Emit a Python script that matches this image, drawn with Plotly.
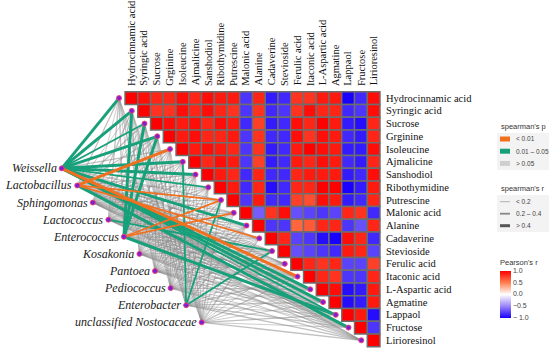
import plotly.graph_objects as go

# ---------------- data ----------------
metabolites = ["Hydrocinnamic acid", "Syringic acid", "Sucrose", "Grginine", "Isoleucine",
               "Ajmalicine", "Sanshodiol", "Ribothymidine", "Putrescine", "Malonic acid",
               "Alanine", "Cadaverine", "Stevioside", "Ferulic acid", "Itaconic acid",
               "L-Aspartic acid", "Agmatine", "Lappaol", "Fructose", "Lirioresinol"]

bacteria = ["Weissella", "Lactobacillus", "Sphingomonas", "Lactococcus", "Enterococcus",
            "Kosakonia", "Pantoea", "Pediococcus", "Enterobacter", "unclassified Nostocaceae"]

# Pearson's r, upper triangle (row i holds columns i..19)
pearson_upper = [
    [1.0, 0.95, 0.85, 0.85, 0.95, 0.85, 0.95, 0.9, 0.9, -0.8, 0.85, -0.9, -0.85, 0.8, 0.8, 0.9, 0.9, -1.0, -0.85, 0.95],
    [1.0, 0.8, 0.8, 0.95, 0.85, 0.95, 0.85, 0.8, -0.8, 0.8, -0.85, -0.8, 0.8, 0.95, 0.85, 0.85, -0.85, -0.8, 0.95],
    [1.0, 0.95, 0.9, 0.95, 0.85, 0.95, 0.9, -0.85, 0.75, -0.9, -0.85, 0.95, 0.85, 1.0, 0.9, -0.9, -0.95, 0.85],
    [1.0, 0.9, 0.95, 0.85, 0.85, 0.9, -0.8, 0.8, -0.85, -0.85, 0.95, 0.8, 0.95, 0.9, -0.85, -0.9, 0.85],
    [1.0, 0.9, 0.95, 0.9, 0.85, -0.8, 0.8, -0.9, -0.85, 0.9, 1.0, 0.95, 0.9, -0.9, -0.9, 0.95],
    [1.0, 0.85, 0.95, 0.9, -0.8, 0.75, -0.9, -0.85, 0.9, 0.85, 0.95, 0.9, -0.85, -0.9, 0.85],
    [1.0, 0.9, 0.85, -0.85, 0.85, -0.85, -0.85, 0.85, 0.9, 0.9, 0.9, -0.9, -0.85, 0.95],
    [1.0, 0.9, -0.85, 0.85, -0.95, -0.85, 0.85, 0.85, 1.0, 1.0, -1.0, -0.9, 0.9],
    [1.0, -0.8, 0.9, -0.85, -0.85, 0.75, 0.7, 0.95, 0.9, -0.9, -0.85, 0.85],
    [1.0, -0.65, 0.8, 0.95, -0.7, -0.75, -0.8, -0.75, 0.85, 0.8, -0.85],
    [1.0, -0.8, -0.8, 0.6, 0.65, 0.85, 0.85, -0.8, -0.7, 0.85],
    [1.0, 0.85, -0.75, -0.8, -0.95, -1.0, 0.95, 0.85, -0.85],
    [1.0, -0.7, -0.75, -0.8, -0.85, 0.9, 0.85, -0.75],
    [1.0, 0.85, 0.8, 0.85, -0.75, -0.75, 0.75],
    [1.0, 0.85, 0.8, -0.8, -0.8, 0.85],
    [1.0, 0.95, -0.95, -0.9, 0.9],
    [1.0, -0.95, -0.9, 0.9],
    [1.0, 0.9, -0.95],
    [1.0, -0.8],
    [1.0],
]

# Mantel-type links bacteria -> metabolites
# spearman's p class: 0 = > 0.05, 1 = 0.01-0.05, 2 = < 0.01
spearman_p_class = [
    [1, 1, 1, 1, 0, 1, 1, 1, 0, 0, 1, 0, 0, 0, 2, 1, 1, 1, 0, 0],
    [0, 0, 0, 0, 2, 0, 0, 0, 2, 0, 0, 2, 0, 0, 0, 0, 0, 0, 1, 0],
    [0, 0, 0, 0, 0, 0, 0, 0, 0, 0, 0, 0, 0, 0, 0, 0, 0, 0, 0, 0],
    [0, 0, 0, 0, 0, 0, 0, 0, 0, 0, 0, 0, 1, 0, 0, 0, 0, 0, 0, 0],
    [0, 1, 1, 1, 0, 0, 0, 0, 2, 2, 0, 0, 0, 0, 0, 0, 0, 1, 0, 0],
    [0, 0, 0, 0, 0, 0, 0, 0, 0, 0, 0, 0, 0, 0, 0, 0, 0, 0, 0, 0],
    [0, 0, 0, 0, 0, 0, 0, 0, 0, 0, 0, 0, 0, 0, 0, 0, 0, 0, 0, 0],
    [0, 0, 0, 0, 0, 0, 0, 0, 0, 0, 0, 0, 0, 0, 0, 0, 0, 0, 0, 0],
    [0, 0, 0, 0, 0, 1, 0, 0, 1, 0, 0, 0, 1, 0, 0, 0, 0, 0, 0, 0],
    [0, 0, 0, 0, 0, 0, 0, 0, 0, 0, 0, 0, 0, 0, 0, 0, 0, 0, 0, 0],
]
# spearman's r class: 0 = < 0.2, 1 = 0.2-0.4, 2 = > 0.4
spearman_r_class = [
    [2, 2, 1, 2, 1, 2, 2, 1, 1, 0, 2, 1, 0, 1, 2, 2, 2, 1, 1, 0],
    [1, 0, 1, 1, 2, 0, 1, 0, 1, 1, 0, 1, 0, 1, 0, 1, 1, 0, 2, 1],
    [0, 1, 0, 1, 0, 1, 0, 0, 1, 0, 1, 0, 1, 0, 0, 1, 0, 1, 0, 0],
    [1, 0, 1, 0, 1, 0, 1, 1, 0, 1, 0, 1, 1, 0, 1, 0, 1, 0, 1, 0],
    [1, 2, 2, 2, 0, 1, 0, 1, 1, 1, 0, 1, 1, 0, 1, 1, 0, 2, 1, 0],
    [0, 1, 0, 0, 1, 0, 1, 0, 0, 1, 0, 0, 1, 0, 1, 0, 0, 1, 0, 1],
    [1, 0, 0, 1, 0, 0, 1, 0, 1, 0, 1, 0, 0, 1, 0, 0, 1, 0, 1, 0],
    [0, 0, 1, 0, 1, 0, 0, 1, 0, 0, 1, 0, 1, 0, 0, 1, 0, 0, 0, 1],
    [0, 1, 0, 1, 0, 1, 0, 1, 1, 0, 1, 0, 1, 0, 1, 0, 1, 0, 1, 1],
    [0, 0, 1, 0, 0, 1, 0, 0, 1, 0, 0, 1, 0, 0, 1, 0, 0, 1, 0, 1],
]

p_legend_labels = ["< 0.01", "0.01 \u2013 0.05", "> 0.05"]
r_legend_labels = ["< 0.2", "0.2 \u2013 0.4", "> 0.4"]
cbar_ticks = [1.0, 0.5, 0.0, -0.5, -1.0]
cbar_ticktext = ["1.0", "0.5", "0.0", "\u22120.5", "\u2212 1.0"]

# ---------------- styles ----------------
W, H = 550, 353
CELL = 12.75                      # px per matrix unit
X0_PX, Y0_PX = 125.0, 91.7        # pixel position of matrix top-left corner
x_lo = -0.5 - X0_PX / CELL
x_hi = x_lo + W / CELL
y_top = -0.5 - Y0_PX / CELL
y_bot = y_top + H / CELL

p_colors = {0: "rgba(140,140,140,0.55)", 1: "#17a07a", 2: "#f07020"}
width_gray = {0: 0.8, 1: 1.3, 2: 2.0}
width_col = {0: 1.0, 1: 1.8, 2: 3.0}

colorscale = [[0.0, "#1a00ff"], [0.25, "#9b85f8"], [0.5, "#ffffff"],
              [0.75, "#ff8050"], [1.0, "#ff0000"]]

SERIF = "Liberation Serif, Times New Roman, serif"
SANS = "Liberation Sans, Arial, sans-serif"

n = len(metabolites)
fig = go.Figure()

# node layout
met_x = [i - 0.97 for i in range(n)]
met_y = [float(i) for i in range(n)]
bac_x = [-5.465 + 1.22 * k for k in range(len(bacteria))]
bac_y = [5.51 + 1.342 * k for k in range(len(bacteria))]

# ---------------- edges ----------------
for p in (0, 1, 2):
    for r in (0, 1, 2):
        xs, ys = [], []
        for b in range(len(bacteria)):
            for m in range(n):
                if spearman_p_class[b][m] == p and spearman_r_class[b][m] == r:
                    xs += [bac_x[b], met_x[m], None]
                    ys += [bac_y[b], met_y[m], None]
        if xs:
            fig.add_trace(go.Scatter(
                x=xs, y=ys, mode="lines", hoverinfo="skip",
                line=dict(color=p_colors[p], width=(width_gray if p == 0 else width_col)[r]),
            ))

# ---------------- heatmap cells ----------------
cx, cy, cv = [], [], []
for i, row in enumerate(pearson_upper):
    for k, v in enumerate(row):
        cx.append(i + k)
        cy.append(i)
        cv.append(v)

fig.add_trace(go.Scatter(
    x=cx, y=cy, mode="markers", hoverinfo="skip",
    marker=dict(symbol="square", size=CELL, color=cv, colorscale=colorscale,
                cmin=-1, cmax=1, line=dict(color="#6e6e6e", width=1.4),
                showscale=True,
                colorbar=dict(
                    x=500 / W, xanchor="left", y=1 - 256.5 / H, yanchor="top",
                    len=61 / H, lenmode="fraction", thickness=11, outlinewidth=0,
                    tickvals=cbar_ticks, ticktext=cbar_ticktext, ticks="",
                    tickfont=dict(size=7, family=SANS, color="#444"),
                    title=dict(text="Pearson's r", side="top",
                               font=dict(size=7.5, family=SANS, color="#333")),
                    xpad=0, ypad=0)),
))

# ---------------- nodes ----------------
fig.add_trace(go.Scatter(
    x=met_x + bac_x, y=met_y + bac_y, mode="markers", hoverinfo="skip",
    marker=dict(size=5, color="#7a1fd6", line=dict(color="#f0407a", width=1)),
))

# ---------------- labels ----------------
ann = []
for i, name in enumerate(metabolites):
    ann.append(dict(x=n - 0.5, y=i, text=name, xanchor="left", yanchor="middle",
                    xshift=4, showarrow=False,
                    font=dict(size=10.5, family=SERIF, color="#111")))
    ann.append(dict(x=i, y=-0.5, text=name, textangle=-90, xanchor="center",
                    yanchor="bottom", yshift=4, showarrow=False,
                    font=dict(size=10.5, family=SERIF, color="#111")))
for k, name in enumerate(bacteria):
    ann.append(dict(x=bac_x[k], y=bac_y[k], text="<i>" + name + "</i>", xanchor="right",
                    yanchor="middle", xshift=-3, showarrow=False,
                    font=dict(size=12, family=SERIF, color="#1a1a1a")))

# ---------------- legends (paper coords from px) ----------------
def px(xp):
    return xp / W


def py(yp):
    return 1 - yp / H


shapes = []
lx = 500
# spearman's p
ann.append(dict(x=px(lx - 1), y=py(126.5), xref="paper", yref="paper", text="spearman's p",
                xanchor="left", yanchor="middle", showarrow=False,
                font=dict(size=7.5, family=SANS, color="#333")))
shapes.append(dict(type="rect", xref="paper", yref="paper", x0=px(497), x1=px(549),
                   y0=py(133), y1=py(170), fillcolor="#f3f3f3", line=dict(width=0), layer="below"))
for j, (lab, pc) in enumerate(zip(p_legend_labels, (2, 1, 0))):
    yc = 139 + j * 12.2
    col = p_colors[pc] if pc != 0 else "#cfcfcf"
    shapes.append(dict(type="rect", xref="paper", yref="paper", x0=px(lx), x1=px(lx + 10),
                       y0=py(yc - 2.5), y1=py(yc + 2.5), fillcolor=col, line=dict(width=0)))
    ann.append(dict(x=px(lx + 14), y=py(yc), xref="paper", yref="paper", text=lab,
                    xanchor="left", yanchor="middle", showarrow=False,
                    font=dict(size=6.5, family=SANS, color="#444")))
# spearman's r
ann.append(dict(x=px(lx - 1), y=py(188.3), xref="paper", yref="paper", text="spearman's r",
                xanchor="left", yanchor="middle", showarrow=False,
                font=dict(size=7.5, family=SANS, color="#333")))
shapes.append(dict(type="rect", xref="paper", yref="paper", x0=px(497), x1=px(549),
                   y0=py(195), y1=py(232), fillcolor="#f3f3f3", line=dict(width=0), layer="below"))
for j, (lab, wd, col) in enumerate(zip(r_legend_labels, (1.0, 1.8, 3.0),
                                       ("#b0b0b0", "#888888", "#555555"))):
    yc = 201.7 + j * 12
    shapes.append(dict(type="line", xref="paper", yref="paper", x0=px(lx), x1=px(lx + 10),
                       y0=py(yc), y1=py(yc), line=dict(color=col, width=wd)))
    ann.append(dict(x=px(lx + 14), y=py(yc), xref="paper", yref="paper", text=lab,
                    xanchor="left", yanchor="middle", showarrow=False,
                    font=dict(size=6.5, family=SANS, color="#444")))

fig.update_layout(
    width=W, height=H, margin=dict(l=0, r=0, t=0, b=0),
    paper_bgcolor="white", plot_bgcolor="white", showlegend=False,
    xaxis=dict(range=[x_lo, x_hi], visible=False, fixedrange=True),
    yaxis=dict(range=[y_bot, y_top], visible=False, fixedrange=True),
    annotations=ann, shapes=shapes,
)

fig.write_html(
    "out.html",
    config={"displayModeBar": False},
    post_script="document.body.style.margin='0';document.body.style.padding='0';",
)
